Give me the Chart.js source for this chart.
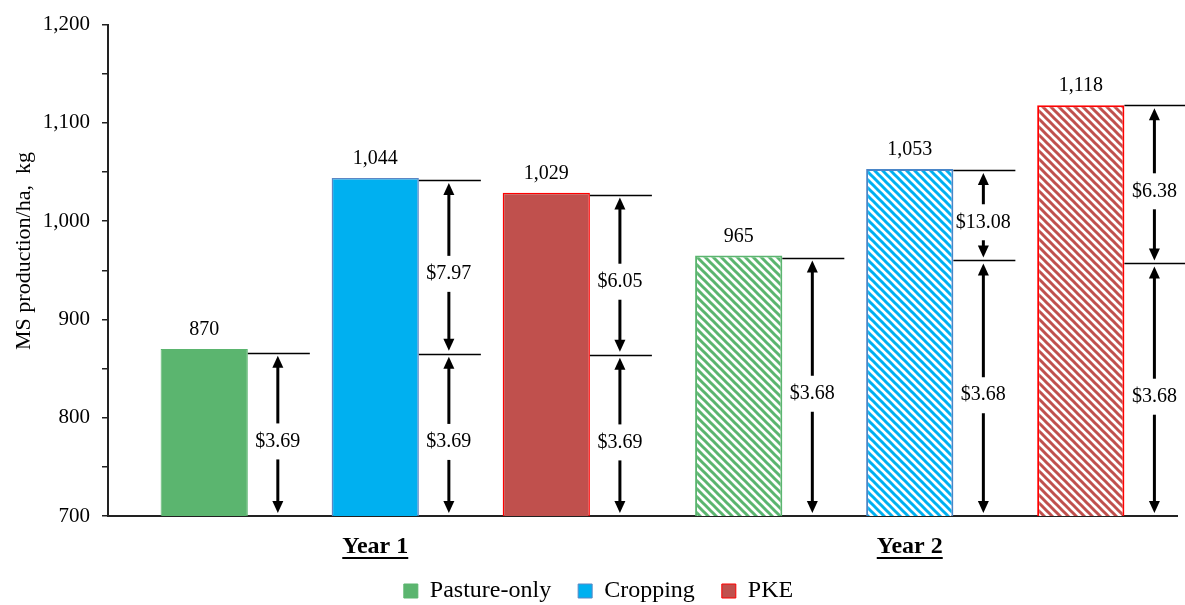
<!DOCTYPE html>
<html>
<head>
<meta charset="utf-8">
<script src="https://cdn.jsdelivr.net/npm/chart.js@4.4.1/dist/chart.umd.min.js"></script>
<style>
  html, body { margin: 0; padding: 0; background: #fff; }
  #wrap { width: 1185px; height: 605px; }
</style>
</head>
<body>
<div id="wrap"><canvas id="chart" width="1185" height="605"></canvas></div>
<script>
// Milk solids production per hectare, by feeding system and year
const years = ['Year 1', 'Year 2'];
const pastureOnly = [870, 965];
const cropping = [1044, 1053];
const pke = [1029, 1118];

// Levels (kg MS/ha) marked to the right of each bar, top first
const pastureLevels = [[866], [963]];
const croppingLevels = [[1042, 865], [1052, 960]];
const pkeLevels = [[1027, 864], [1118, 957]];

// Cost labels for the spans between those levels (last span runs to the axis)
const pastureCosts = [['$3.69'], ['$3.68']];
const croppingCosts = [['$7.97', '$3.69'], ['$13.08', '$3.68']];
const pkeCosts = [['$6.05', '$3.69'], ['$6.38', '$3.68']];

const yTicksMin = 700;
const yTicksMax = 1200;
const yTitle = 'MS production/ha,  kg';

const FONT = 'Liberation Serif, "Times New Roman", serif';

// Diagonal hatch fill for the second-year bars
function hatch(color) {
  const c = document.createElement('canvas');
  c.width = 8; c.height = 8;
  const g = c.getContext('2d');
  g.fillStyle = '#fff';
  g.fillRect(0, 0, 8, 8);
  g.strokeStyle = color;
  g.lineWidth = 3;
  g.lineCap = 'square';
  for (const k of [-8, 0, 8]) {
    g.beginPath();
    g.moveTo(k - 2, -2);
    g.lineTo(k + 10, 10);
    g.stroke();
  }
  return document.getElementById('chart').getContext('2d').createPattern(c, 'repeat');
}

const green = '#5BB56F', blue = '#00B0F0', red = '#C0504D';

function drawArrowHead(ctx, x, tipY, dir) {
  // dir = -1 points up, +1 points down
  ctx.beginPath();
  ctx.moveTo(x, tipY);
  ctx.lineTo(x - 5.5, tipY - dir * 12);
  ctx.lineTo(x + 5.5, tipY - dir * 12);
  ctx.closePath();
  ctx.fill();
}

const annotate = {
  id: 'annotate',
  afterLayout(chart) {
    // let the year labels spill below the axis box, and nudge the legend
    chart.scales.x.bottom = chart.height;
    const L = chart.legend;
    const h = L.bottom - L.top;
    L.top = 552;
    L.bottom = 552 + h;
    L.left += 10;
    L.right += 10;
  },
  afterDatasetsDraw(chart) {
    const ctx = chart.ctx;
    const ys = chart.scales.y;
    ctx.save();
    chart.data.datasets.forEach((ds, di) => {
      const meta = chart.getDatasetMeta(di);
      meta.data.forEach((bar, j) => {
        const right = bar.x + bar.width / 2;
        const ax = right + 30;
        // value above the bar
        ctx.fillStyle = '#000';
        ctx.font = '20px ' + FONT;
        ctx.textAlign = 'center';
        ctx.textBaseline = 'middle';
        ctx.fillText(ds.data[j].toLocaleString('en-US'), bar.x, bar.y - 19);

        const levels = ds.levels[j];
        const costs = ds.costs[j];
        // level lines
        ctx.strokeStyle = '#000';
        ctx.lineWidth = 1.5;
        levels.forEach(v => {
          const py = Math.round(ys.getPixelForValue(v)) + 0.5;
          ctx.beginPath();
          ctx.moveTo(right, py);
          ctx.lineTo(right + 62, py);
          ctx.stroke();
        });
        // double-headed arrows with cost labels
        levels.forEach((v, k) => {
          const top = ys.getPixelForValue(v);
          const bot = ys.getPixelForValue(k + 1 < levels.length ? levels[k + 1] : yTicksMin);
          const mid = (top + bot) / 2 + 7;
          const gap = 18;
          ctx.fillStyle = '#000';
          ctx.lineWidth = 3;
          drawArrowHead(ctx, ax, top + 3, -1);
          ctx.beginPath();
          ctx.moveTo(ax, top + 14);
          ctx.lineTo(ax, mid - gap);
          ctx.stroke();
          drawArrowHead(ctx, ax, bot - 3, 1);
          ctx.beginPath();
          ctx.moveTo(ax, mid + gap);
          ctx.lineTo(ax, bot - 14);
          ctx.stroke();
          ctx.fillText(costs[k], ax, mid);
        });
      });
    });
    ctx.restore();
  },
  afterDraw(chart) {
    const xs = chart.scales.x;
    const ctx = chart.ctx;
    ctx.save();
    // underline the year labels
    ctx.font = 'bold 24px ' + FONT;
    ctx.strokeStyle = '#000';
    ctx.lineWidth = 2;
    xs.ticks.forEach((t, i) => {
      const x = xs.getPixelForTick(i);
      const w = ctx.measureText(t.label).width;
      const y = 558;
      ctx.beginPath();
      ctx.moveTo(x - w / 2, y);
      ctx.lineTo(x + w / 2, y);
      ctx.stroke();
    });
    // vertical axis title
    ctx.font = '22px ' + FONT;
    ctx.fillStyle = '#000';
    ctx.textAlign = 'center';
    ctx.textBaseline = 'middle';
    ctx.translate(24, 251);
    ctx.rotate(-Math.PI / 2);
    ctx.fillText(yTitle, 0, 0);
    ctx.restore();
  }
};

const datasets = [
  {
    label: 'Pasture-only',
    data: pastureOnly,
    backgroundColor: [green, hatch(green)],
    borderColor: [green, green],
    borderWidth: [1, 2],
    levels: pastureLevels,
    costs: pastureCosts
  },
  {
    label: 'Cropping',
    data: cropping,
    backgroundColor: [blue, hatch(blue)],
    borderColor: ['#5B87C5', '#4A86C8'],
    borderWidth: [1.5, 2],
    levels: croppingLevels,
    costs: croppingCosts
  },
  {
    label: 'PKE',
    data: pke,
    backgroundColor: [red, hatch(red)],
    borderColor: ['#FF0000', '#FF0000'],
    borderWidth: [1.5, 2],
    levels: pkeLevels,
    costs: pkeCosts
  }
];

new Chart(document.getElementById('chart'), {
  type: 'bar',
  data: { labels: years, datasets },
  plugins: [annotate],
  options: {
    responsive: false,
    animation: false,
    devicePixelRatio: 1,
    categoryPercentage: 0.96,
    barPercentage: 0.51,
    layout: { padding: { left: 0, right: 8, top: 24, bottom: 0 } },
    plugins: {
      tooltip: { enabled: false },
      legend: {
        position: 'bottom',
        labels: {
          font: { family: FONT, size: 24 },
          color: '#000',
          boxWidth: 14,
          boxHeight: 14,
          padding: 27,
          generateLabels: (chart) => chart.data.datasets.map((ds, i) => ({
            text: ds.label,
            fillStyle: ds.backgroundColor[0],
            strokeStyle: ds.borderColor[0],
            lineWidth: 1,
            hidden: false,
            datasetIndex: i,
            fontColor: '#000'
          }))
        }
      }
    },
    scales: {
      x: {
        grid: { display: false },
        border: { display: true, color: '#222', width: 2 },
        ticks: {
          font: { family: FONT, size: 24, weight: 'bold' },
          color: '#000',
          padding: 8
        },
        afterFit: (s) => { s.height = 28; }
      },
      y: {
        min: yTicksMin,
        max: yTicksMax,
        ticks: {
          stepSize: 25,
          font: { family: FONT, size: 21 },
          color: '#000',
          padding: 12,
          callback: (v) => (v % 100 === 0 ? v.toLocaleString('en-US') : '')
        },
        grid: { drawOnChartArea: false, drawTicks: true, tickLength: 6, color: '#222', lineWidth: 1.5 },
        border: { display: true, color: '#222', width: 2 },
        afterFit: (s) => { s.width = 108; }
      }
    }
  }
});
</script>
</body>
</html>
